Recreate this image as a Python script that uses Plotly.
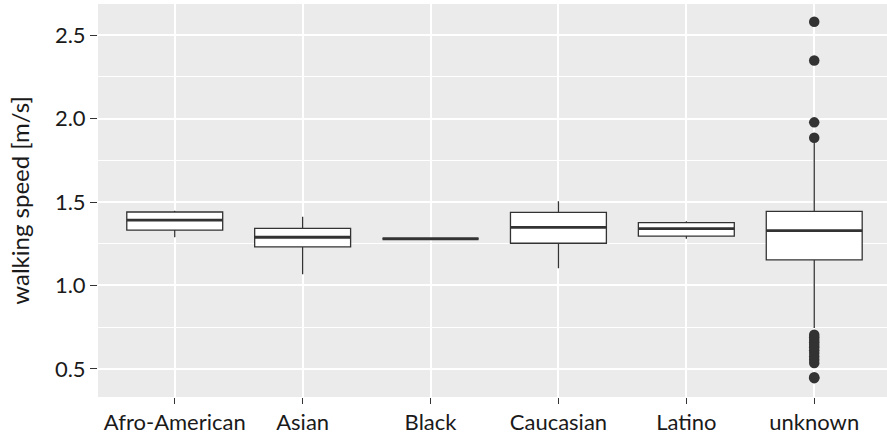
import plotly.graph_objects as go

categories = ["Afro-American", "Asian", "Black", "Caucasian", "Latino", "unknown"]
q1 = [1.332, 1.231, 1.280, 1.253, 1.296, 1.153]
median = [1.392, 1.289, 1.280, 1.348, 1.340, 1.328]
q3 = [1.440, 1.342, 1.280, 1.438, 1.376, 1.444]
lower_whisker = [1.289, 1.067, 1.280, 1.103, 1.280, 0.745]
upper_whisker = [1.448, 1.412, 1.280, 1.504, 1.384, 1.865]
outliers_unknown = [2.580, 2.348, 1.977, 1.885,
                    0.705, 0.690, 0.675, 0.660, 0.645, 0.630, 0.612,
                    0.595, 0.575, 0.555, 0.535, 0.450, 0.445]

positions = list(range(1, len(categories) + 1))
box_width = 0.75
ink = "#333333"
text_color = "#1a1a1a"
font_family = "Lato, 'Open Sans', sans-serif"

fig = go.Figure()
for i, cat in enumerate(categories):
    fig.add_trace(go.Box(
        x=[positions[i]], q1=[q1[i]], median=[median[i]], q3=[q3[i]],
        lowerfence=[lower_whisker[i]], upperfence=[upper_whisker[i]],
        width=box_width, whiskerwidth=0, fillcolor="white",
        line=dict(color=ink, width=1.3), boxpoints=False,
        name=cat, showlegend=False, hoverinfo="skip",
    ))
    fig.add_trace(go.Scatter(
        x=[positions[i] - box_width / 2, positions[i] + box_width / 2],
        y=[median[i], median[i]], mode="lines",
        line=dict(color=ink, width=2.8), showlegend=False, hoverinfo="skip",
    ))

fig.add_trace(go.Scatter(
    x=[positions[categories.index("unknown")]] * len(outliers_unknown),
    y=outliers_unknown, mode="markers",
    marker=dict(color=ink, size=10.5, line=dict(width=0)),
    showlegend=False, hoverinfo="skip",
))

fig.update_layout(
    width=887, height=436,
    margin=dict(l=98, r=0, t=4, b=39),
    paper_bgcolor="white", plot_bgcolor="#EBEBEB",
    font=dict(family=font_family, size=22, color=text_color),
)
fig.update_xaxes(
    range=[0.4, 6.569], tickmode="array", tickvals=positions, ticktext=categories,
    showgrid=True, gridcolor="white", gridwidth=2, zeroline=False,
    ticks="outside", ticklen=6, tickwidth=1.2, tickcolor=ink,
    tickfont=dict(size=22, color=text_color), showline=False,
)
fig.update_yaxes(
    range=[0.332, 2.686], tickmode="array", tickvals=[0.5, 1.0, 1.5, 2.0, 2.5],
    ticktext=["0.5", "1.0", "1.5", "2.0", "2.5"],
    showgrid=True, gridcolor="white", gridwidth=2, zeroline=False,
    minor=dict(tickmode="array", tickvals=[0.75, 1.25, 1.75, 2.25],
               showgrid=True, gridcolor="white", gridwidth=1, ticks=""),
    ticks="outside", ticklen=7, tickwidth=1.2, tickcolor=ink,
    tickfont=dict(size=22, color=text_color),
    title=dict(text="walking speed [m/s]", font=dict(size=24, color=text_color), standoff=18),
)

fig.write_html("out.html")
